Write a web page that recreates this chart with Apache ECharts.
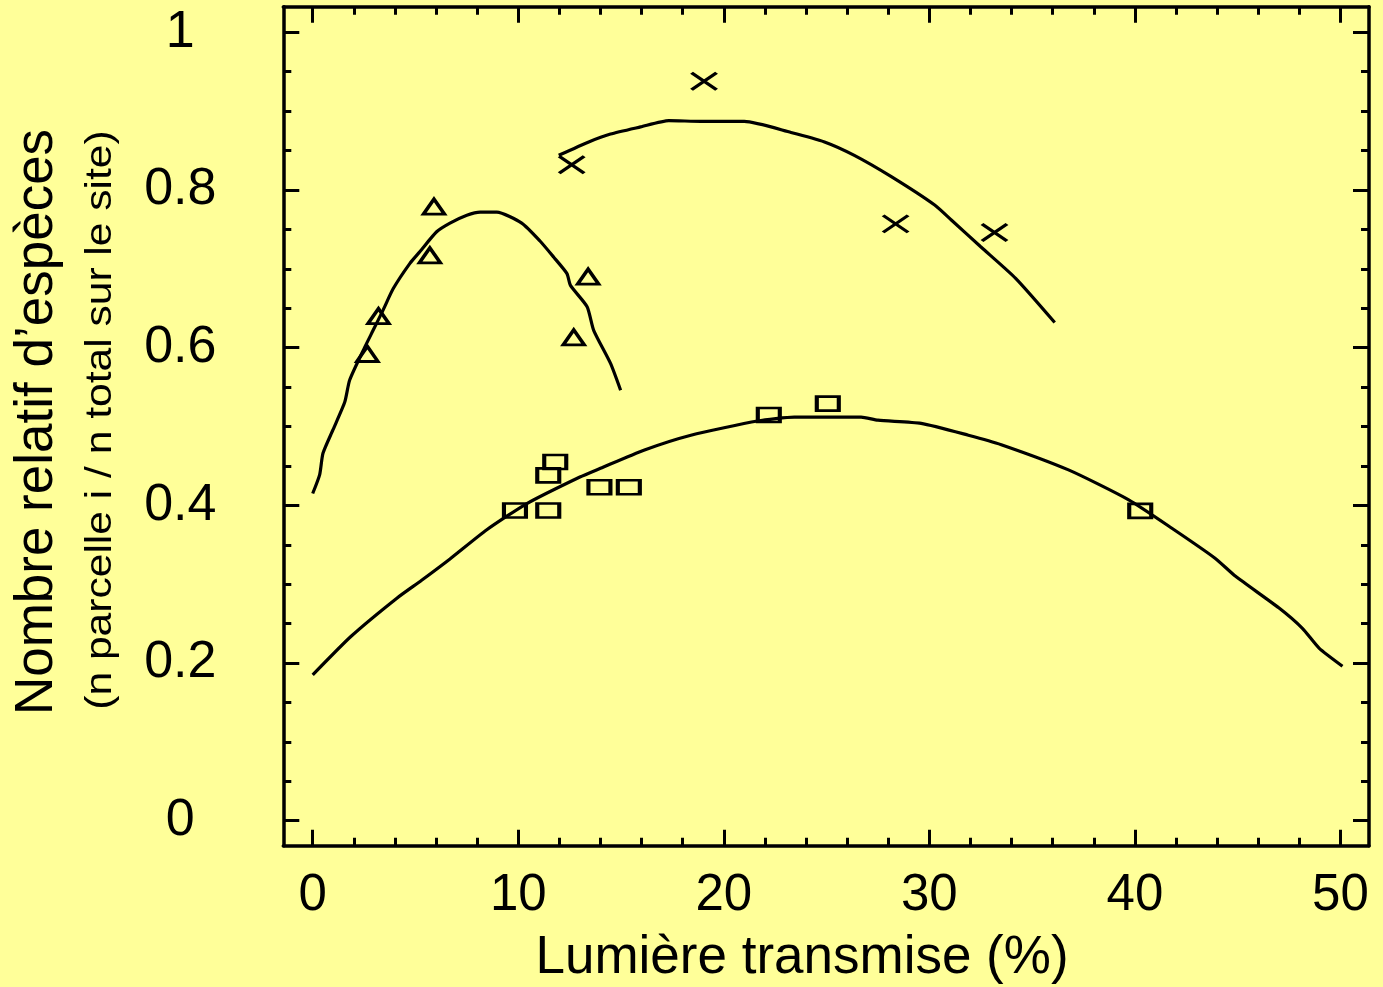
<!DOCTYPE html>
<html>
<head>
<meta charset="utf-8">
<script src="https://cdn.jsdelivr.net/npm/echarts@6/dist/echarts.min.js"></script>
<style>
html,body{margin:0;padding:0;background:#FFFF99;}
#chart{width:1383px;height:987px;}
</style>
</head>
<body>
<div id="chart"></div>
<script>
// ---- data ----
const xMajorTicks = [0, 10, 20, 30, 40, 50];
const xMinorTicks = [2, 4, 6, 8, 12, 14, 16, 18, 22, 24, 26, 28, 32, 34, 36, 38, 42, 44, 46, 48];
const yMajorTicks = [0, 0.2, 0.4, 0.6, 0.8, 1];
const yMinorTicks = [0.05, 0.1, 0.15, 0.25, 0.3, 0.35, 0.45, 0.5, 0.55, 0.65, 0.7, 0.75, 0.85, 0.9, 0.95];
const yTickLabels = ['0', '0.2', '0.4', '0.6', '0.8', '1'];
const xTickLabels = ['0', '10', '20', '30', '40', '50'];

const triX = [2.66, 3.2, 5.7, 5.9, 12.7, 13.4];
const triY = [0.592, 0.640, 0.717, 0.779, 0.613, 0.690];
const sqX = [9.84, 11.46, 11.46, 11.8, 13.95, 15.38, 22.19, 25.06, 40.26];
const sqY = [0.3935, 0.3935, 0.438, 0.455, 0.423, 0.423, 0.5146, 0.529, 0.393];
const crossX = [12.6, 19.04, 28.36, 33.17];
const crossY = [0.832, 0.938, 0.757, 0.746];

const triCurveX = [0, 0.34, 0.5, 0.99, 1.56, 1.8, 2.54, 2.94, 3.43, 3.92, 4.73, 5.22, 6.03, 6.68, 7.5, 8.15, 8.96, 10.17, 11.07, 11.72, 12.37, 12.54, 13.35, 13.67, 14.49, 14.98];
const triCurveY = [0.415, 0.439, 0.466, 0.496, 0.531, 0.559, 0.601, 0.622, 0.648, 0.675, 0.707, 0.722, 0.747, 0.758, 0.768, 0.772, 0.772, 0.758, 0.735, 0.715, 0.694, 0.679, 0.652, 0.622, 0.580, 0.546];
const sqCurveX = [0, 1.87, 4.08, 5.3, 6.68, 8.47, 10.4, 13.0, 14.0, 16.11, 18.4, 21.64, 23.43, 26.68, 27.5, 29.6, 31.9, 33.5, 36.77, 39.7, 41.8, 43.9, 44.9, 47.0, 48.15, 48.96, 50.1];
const sqCurveY = [0.185, 0.234, 0.282, 0.305, 0.332, 0.369, 0.402, 0.436, 0.447, 0.470, 0.489, 0.507, 0.512, 0.512, 0.508, 0.504, 0.489, 0.477, 0.445, 0.407, 0.371, 0.333, 0.310, 0.270, 0.244, 0.219, 0.196];
const crossCurveX = [11.97, 13.43, 14.49, 15.95, 17.33, 18.88, 21.0, 23.27, 24.9, 26.35, 28.15, 30.26, 31.07, 32.5, 34.2, 36.1];
const crossCurveY = [0.844, 0.861, 0.871, 0.880, 0.888, 0.887, 0.887, 0.873, 0.861, 0.844, 0.817, 0.781, 0.762, 0.728, 0.688, 0.632];

const zip = (a, b) => a.map((v, i) => [v, b[i]]);

// ---- styles ----
const FONT = 'Liberation Sans';
const XMIN = -1.43, XMAX = 51.39, YMIN = -0.0317, YMAX = 1.0325;
const lineStyle = {color: '#000', width: 3.5};

function mkX(pos, ticks, len, showLine, labels) {
  return {
    type: 'value', position: pos, min: XMIN, max: XMAX,
    axisLine: {show: showLine, onZero: false, lineStyle: lineStyle},
    axisTick: {show: true, inside: true, length: len, customValues: ticks, lineStyle: {color: '#000', width: 3}},
    axisLabel: labels ? {show: true, customValues: xMajorTicks, formatter: v => xTickLabels[xMajorTicks.indexOf(v)], fontSize: 51, fontFamily: FONT, color: '#000', margin: 25} : {show: false},
    splitLine: {show: false}
  };
}
function mkY(pos, ticks, len, showLine, labels) {
  return {
    type: 'value', position: pos, min: YMIN, max: YMAX,
    axisLine: {show: showLine, onZero: false, lineStyle: lineStyle},
    axisTick: {show: true, inside: true, length: len, customValues: ticks, lineStyle: {color: '#000', width: 3}},
    axisLabel: labels ? {show: true, customValues: yMajorTicks, formatter: v => yTickLabels[yMajorTicks.indexOf(v)], fontSize: 52, fontFamily: FONT, color: '#000', align: 'center', margin: 103} : {show: false},
    splitLine: {show: false}
  };
}

const chart = echarts.init(document.getElementById('chart'), null, {renderer: 'canvas'});
const markerStyle = {color: 'rgba(0,0,0,0)', borderColor: '#000', borderWidth: 3.3, opacity: 1};
chart.setOption({
  backgroundColor: '#FFFF99',
  animation: false,
  grid: {left: 283.3, right: 14, top: 6.7, bottom: 141.3, containLabel: false},
  xAxis: [
    mkX('bottom', xMajorTicks, 16, true, true),
    mkX('bottom', xMinorTicks, 8, false, false),
    mkX('top', xMajorTicks, 16, true, false),
    mkX('top', xMinorTicks, 8, false, false)
  ],
  yAxis: [
    mkY('left', yMajorTicks, 16, true, true),
    mkY('left', yMinorTicks, 8, false, false),
    mkY('right', yMajorTicks, 16, true, false),
    mkY('right', yMinorTicks, 8, false, false)
  ],
  graphic: [
    {type: 'text', x: 802, y: 958, style: {text: 'Lumière transmise (%)', fontSize: 53, fontFamily: FONT, fill: '#000', align: 'center', verticalAlign: 'middle'}},
    {type: 'text', x: 37, y: 422, rotation: Math.PI / 2, style: {text: 'Nombre relatif d\u2019espèces', fontSize: 53, fontFamily: FONT, fill: '#000', align: 'center', verticalAlign: 'middle'}},
    {type: 'text', x: 101, y: 420, rotation: Math.PI / 2, scaleX: 1.15, style: {text: '(n parcelle i / n total sur le site)', fontSize: 37, fontFamily: FONT, fill: '#000', align: 'center', verticalAlign: 'middle'}}
  ],
  series: [
    {type: 'line', data: zip(sqCurveX, sqCurveY), showSymbol: false, symbol: 'none', lineStyle: {color: '#000', width: 3.2}, smooth: 0.2, silent: true},
    {type: 'line', data: zip(triCurveX, triCurveY), showSymbol: false, symbol: 'none', lineStyle: {color: '#000', width: 3.2}, smooth: 0.2, silent: true},
    {type: 'line', data: zip(crossCurveX, crossCurveY), showSymbol: false, symbol: 'none', lineStyle: {color: '#000', width: 3.2}, smooth: 0.2, silent: true},
    {type: 'scatter', data: zip(triX, triY), symbol: 'triangle', symbolSize: [21, 15], itemStyle: markerStyle},
    {type: 'scatter', data: zip(sqX, sqY), symbol: 'rect', symbolSize: [22, 14], itemStyle: markerStyle},
    {type: 'scatter', data: zip(crossX, crossY), symbol: 'path://M0,0L10,7M0,7L10,0', symbolSize: [25, 17], itemStyle: markerStyle}
  ]
});
</script>
</body>
</html>
